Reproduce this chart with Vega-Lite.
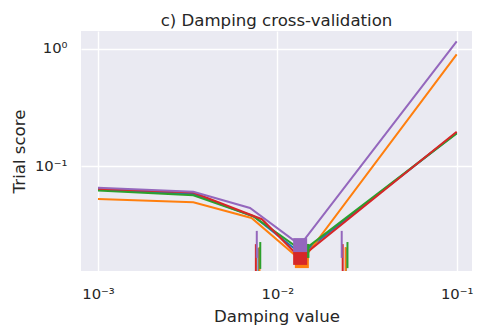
{
  "$schema": "https://vega.github.io/schema/vega-lite/v6.json",
  "width": 391,
  "height": 240,
  "autosize": {"type": "none"},
  "padding": {"left": 81, "top": 31, "right": 11, "bottom": 63},
  "background": "white",
  "config": {
    "font": "DejaVu Sans",
    "view": {"fill": "#EAEAF2", "stroke": null},
    "axis": {
      "domain": false,
      "ticks": false,
      "tickSize": 0,
      "grid": true,
      "gridColor": "white",
      "gridWidth": 1.4,
      "labelColor": "#262626",
      "titleColor": "#262626",
      "labelFont": "DejaVu Sans",
      "titleFont": "DejaVu Sans",
      "labelFontSize": 14.8,
      "titleFontSize": 16.6,
      "titleFontWeight": "normal",
      "labelFlush": false,
      "labelOverlap": false
    }
  },
  "title": {
    "text": "c) Damping cross-validation",
    "font": "DejaVu Sans",
    "fontSize": 16.6,
    "fontWeight": "normal",
    "color": "#262626",
    "baseline": "alphabetic",
    "offset": -12,
    "anchor": "middle"
  },
  "datasets": {
    "curves": [
      {"trial": "0", "damping": 0.001, "score": 0.0630},
      {"trial": "0", "damping": 0.0034, "score": 0.0577},
      {"trial": "0", "damping": 0.0074, "score": 0.0370},
      {"trial": "0", "damping": 0.0136, "score": 0.0177},
      {"trial": "0", "damping": 0.1, "score": 0.192},
      {"trial": "1", "damping": 0.001, "score": 0.0523},
      {"trial": "1", "damping": 0.0034, "score": 0.0490},
      {"trial": "1", "damping": 0.00718, "score": 0.0360},
      {"trial": "1", "damping": 0.0137, "score": 0.0154},
      {"trial": "1", "damping": 0.1, "score": 0.901},
      {"trial": "2", "damping": 0.001, "score": 0.0617},
      {"trial": "2", "damping": 0.0034, "score": 0.0562},
      {"trial": "2", "damping": 0.0073, "score": 0.0374},
      {"trial": "2", "damping": 0.0138, "score": 0.0188},
      {"trial": "2", "damping": 0.1, "score": 0.190},
      {"trial": "3", "damping": 0.001, "score": 0.0640},
      {"trial": "3", "damping": 0.0034, "score": 0.0594},
      {"trial": "3", "damping": 0.0082, "score": 0.0351},
      {"trial": "3", "damping": 0.0134, "score": 0.0164},
      {"trial": "3", "damping": 0.1, "score": 0.196},
      {"trial": "4", "damping": 0.001, "score": 0.0653},
      {"trial": "4", "damping": 0.0034, "score": 0.0603},
      {"trial": "4", "damping": 0.00704, "score": 0.0438},
      {"trial": "4", "damping": 0.0134, "score": 0.0211},
      {"trial": "4", "damping": 0.1, "score": 1.164}
    ],
    "best": [
      {"trial": "0", "damping": 0.0136, "score": 0.0177},
      {"trial": "1", "damping": 0.0137, "score": 0.0154},
      {"trial": "2", "damping": 0.0138, "score": 0.0188},
      {"trial": "3", "damping": 0.0134, "score": 0.0164},
      {"trial": "4", "damping": 0.0134, "score": 0.0211}
    ],
    "bars": [
      {"trial": "0", "damping": 0.00785, "top": 0.0199, "bottom": 0.008},
      {"trial": "1", "damping": 0.00795, "top": 0.0203, "bottom": 0.008},
      {"trial": "2", "damping": 0.00803, "top": 0.0224, "bottom": 0.0132},
      {"trial": "3", "damping": 0.00759, "top": 0.0215, "bottom": 0.008},
      {"trial": "4", "damping": 0.00768, "top": 0.0279, "bottom": 0.0164},
      {"trial": "0", "damping": 0.0241, "top": 0.0199, "bottom": 0.008},
      {"trial": "1", "damping": 0.02405, "top": 0.0203, "bottom": 0.008},
      {"trial": "2", "damping": 0.0246, "top": 0.0224, "bottom": 0.0134},
      {"trial": "3", "damping": 0.02314, "top": 0.0215, "bottom": 0.008},
      {"trial": "4", "damping": 0.02285, "top": 0.0279, "bottom": 0.0164}
    ]
  },
  "encoding": {
    "x": {
      "field": "damping",
      "type": "quantitative",
      "scale": {"type": "log", "domain": [0.000804, 0.1217], "nice": false},
      "axis": {
        "title": "Damping value",
        "values": [0.001, 0.01, 0.1],
        "labelBaseline": "alphabetic",
        "labelPadding": 27,
        "titleBaseline": "alphabetic",
        "titleY": 50,
        "labelExpr": "round(log(datum.value)/LN10) == -3 ? '10⁻³' : round(log(datum.value)/LN10) == -2 ? '10⁻²' : '10⁻¹'"
      }
    },
    "color": {
      "field": "trial",
      "type": "nominal",
      "scale": {"domain": ["0", "1", "2", "3", "4"], "range": ["#1f77b4", "#ff7f0e", "#2ca02c", "#d62728", "#9467bd"]},
      "legend": null
    }
  },
  "layer": [
    {
      "data": {"name": "bars"},
      "mark": {"type": "rule", "strokeWidth": 2, "clip": true},
      "encoding": {
        "y": {
          "field": "top",
          "type": "quantitative",
          "scale": {"type": "log", "domain": [0.01267, 1.425], "nice": false},
          "axis": {
            "title": "Trial score",
            "values": [0.1, 1],
            "labelPadding": 14,
            "labelBaseline": "middle",
            "titleBaseline": "alphabetic",
            "titleX": -57,
            "titleY": 120,
            "labelExpr": "round(log(datum.value)/LN10) == 0 ? '10⁰' : '10⁻¹'"
          }
        },
        "y2": {"field": "bottom"}
      }
    },
    {
      "data": {"name": "curves"},
      "mark": {"type": "line", "strokeWidth": 2, "clip": true},
      "encoding": {
        "y": {"field": "score", "type": "quantitative"},
        "order": {"field": "damping", "type": "quantitative"}
      }
    },
    {
      "data": {"name": "best"},
      "mark": {"type": "point", "shape": "square", "filled": true, "size": 196, "opacity": 1, "clip": true},
      "encoding": {
        "y": {"field": "score", "type": "quantitative"}
      }
    }
  ]
}
